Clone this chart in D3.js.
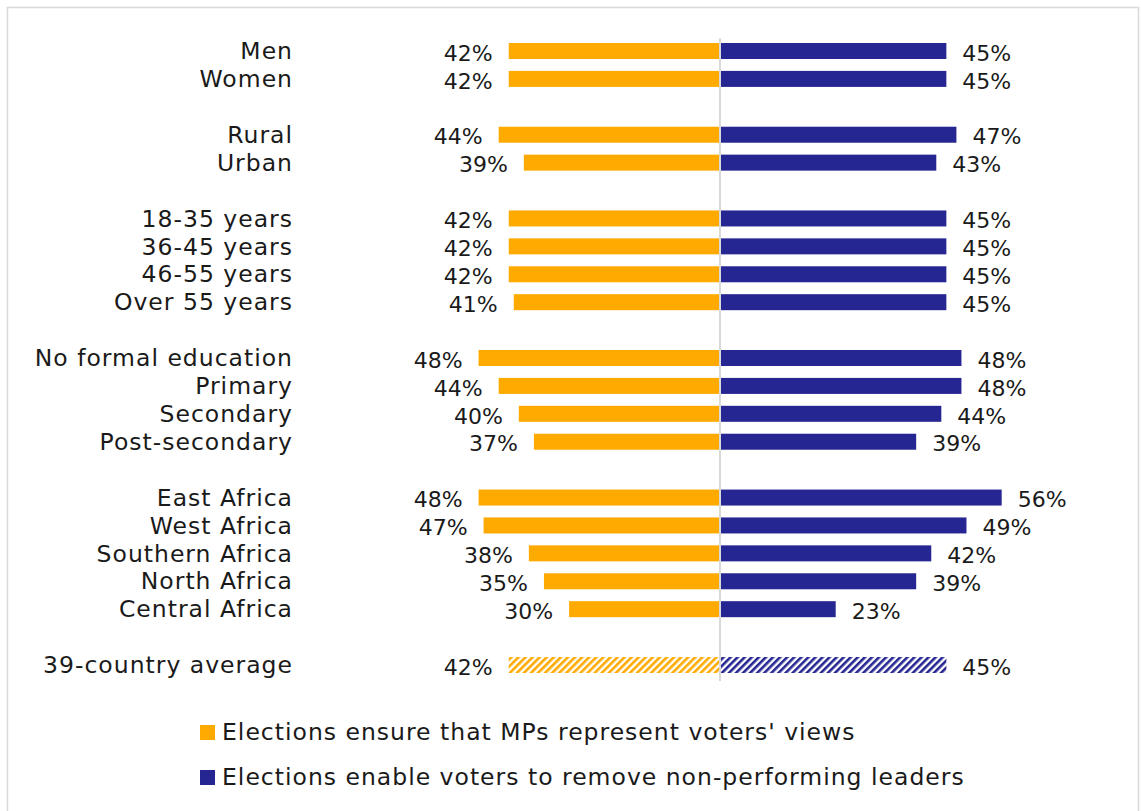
<!DOCTYPE html>
<html><head><meta charset="utf-8">
<script src="https://cdn.jsdelivr.net/npm/d3@7"></script>
<style>
body{margin:0;background:#fff;}
svg text{font-family:"DejaVu Sans",sans-serif;fill:#1a1a1a;}
</style></head>
<body><svg id="chart" width="1141" height="811"></svg>
<script>
const categories = ["Men","Women","","Rural","Urban","","18-35 years","36-45 years","46-55 years","Over 55 years","","No formal education","Primary","Secondary","Post-secondary","","East Africa","West Africa","Southern Africa","North Africa","Central Africa","","39-country average"];
const represent = [42,42,null,44,39,null,42,42,42,41,null,48,44,40,37,null,48,47,38,35,30,null,42];
const remove    = [45,45,null,47,43,null,45,45,45,45,null,48,48,44,39,null,56,49,42,39,23,null,45];
const seriesNames = ["Elections ensure that MPs represent voters' views","Elections enable voters to remove non-performing leaders"];
const colors = ["#FFAA00","#262693"];

const svg = d3.select("#chart");
const fs = 23.5;
svg.append("rect").attr("x",7.5).attr("y",7.5).attr("width",1131).attr("height",820)
  .attr("fill","#fff").attr("stroke","#d9d9d9").attr("stroke-width",1.5);

const defs = svg.append("defs");
colors.forEach((c,i)=>{
  const p = defs.append("pattern").attr("id","hatch"+i).attr("patternUnits","userSpaceOnUse")
    .attr("width",5).attr("height",5).attr("patternTransform","rotate(45)");
  p.append("rect").attr("width",5).attr("height",5).attr("fill","#fff");
  p.append("rect").attr("width",2.6).attr("height",5).attr("fill",c);
});

const cx = 720;
const xL = d3.scaleLinear().domain([0,100]).range([cx, cx-503]);
const xR = d3.scaleLinear().domain([0,100]).range([cx, cx+503]);
const y = d3.scalePoint().domain(d3.range(categories.length)).range([51,665]);
const bh = 16;

svg.append("g").selectAll("text").data(categories).join("text")
  .attr("x",293).attr("y",(d,i)=>y(i)).attr("dy","0.35em")
  .attr("text-anchor","end").attr("font-size",fs).attr("letter-spacing",1).text(d=>d);

const last = categories.length-1;
const idx = d3.range(categories.length).filter(i=>represent[i]!=null);

svg.append("g").selectAll("rect").data(idx).join("rect")
  .attr("x",i=>xL(represent[i])).attr("width",i=>cx-xL(represent[i]))
  .attr("y",i=>y(i)-bh/2).attr("height",bh)
  .attr("fill",i=>i===last?"url(#hatch0)":colors[0]);
svg.append("g").selectAll("rect").data(idx).join("rect")
  .attr("x",cx+1).attr("width",i=>xR(remove[i])-cx-1)
  .attr("y",i=>y(i)-bh/2).attr("height",bh)
  .attr("fill",i=>i===last?"url(#hatch1)":colors[1]);

svg.append("line").attr("x1",cx).attr("x2",cx).attr("y1",38).attr("y2",681)
  .attr("stroke","#d9d9d9").attr("stroke-width",2);

svg.append("g").selectAll("text").data(idx).join("text")
  .attr("x",i=>xL(represent[i])-16).attr("y",i=>y(i)+2).attr("dy","0.35em")
  .attr("text-anchor","end").attr("font-size",22).text(i=>represent[i]+"%");
svg.append("g").selectAll("text").data(idx).join("text")
  .attr("x",i=>xR(remove[i])+16).attr("y",i=>y(i)+2).attr("dy","0.35em")
  .attr("text-anchor","start").attr("font-size",22).text(i=>remove[i]+"%");

const lg = svg.append("g").selectAll("g").data(seriesNames).join("g")
  .attr("transform",(d,i)=>`translate(200,${732+i*45})`);
lg.append("rect").attr("x",0).attr("y",-7).attr("width",15).attr("height",15).attr("fill",(d,i)=>colors[i]);
lg.append("text").attr("x",22).attr("y",0).attr("dy","0.35em").attr("font-size",fs).attr("letter-spacing",1).text(d=>d);
</script></body></html>
